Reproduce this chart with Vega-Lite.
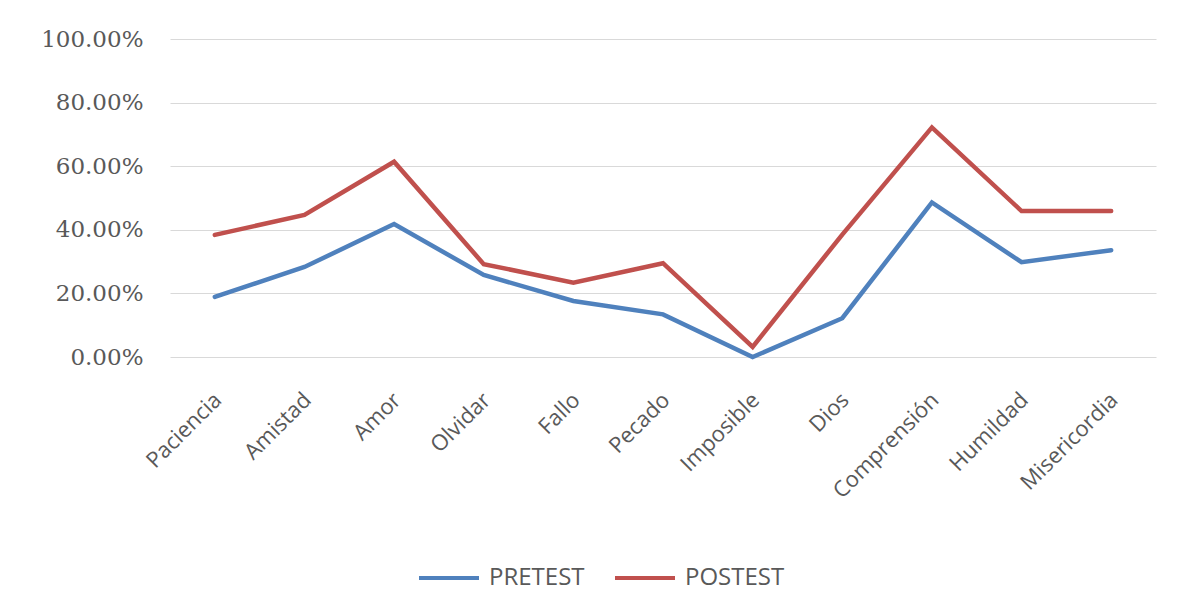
{
  "$schema": "https://vega.github.io/schema/vega-lite/v6.json",
  "width": 986,
  "height": 318,
  "autosize": {"type": "none"},
  "padding": {"left": 170, "top": 39, "right": 28, "bottom": 256},
  "background": "white",
  "config": {
    "view": {"stroke": null},
    "axis": {"labelColor": "#595959", "gridColor": "#d9d9d9", "domain": false, "ticks": false}
  },
  "data": {
    "values": [
      {"categoria": "Paciencia", "serie": "PRETEST", "valor": 0.189},
      {"categoria": "Amistad", "serie": "PRETEST", "valor": 0.283},
      {"categoria": "Amor", "serie": "PRETEST", "valor": 0.418},
      {"categoria": "Olvidar", "serie": "PRETEST", "valor": 0.258},
      {"categoria": "Fallo", "serie": "PRETEST", "valor": 0.176},
      {"categoria": "Pecado", "serie": "PRETEST", "valor": 0.134},
      {"categoria": "Imposible", "serie": "PRETEST", "valor": 0.0},
      {"categoria": "Dios", "serie": "PRETEST", "valor": 0.122},
      {"categoria": "Comprensión", "serie": "PRETEST", "valor": 0.486},
      {"categoria": "Humildad", "serie": "PRETEST", "valor": 0.298},
      {"categoria": "Misericordia", "serie": "PRETEST", "valor": 0.336},
      {"categoria": "Paciencia", "serie": "POSTEST", "valor": 0.384},
      {"categoria": "Amistad", "serie": "POSTEST", "valor": 0.447},
      {"categoria": "Amor", "serie": "POSTEST", "valor": 0.614},
      {"categoria": "Olvidar", "serie": "POSTEST", "valor": 0.292},
      {"categoria": "Fallo", "serie": "POSTEST", "valor": 0.234},
      {"categoria": "Pecado", "serie": "POSTEST", "valor": 0.295},
      {"categoria": "Imposible", "serie": "POSTEST", "valor": 0.032},
      {"categoria": "Dios", "serie": "POSTEST", "valor": 0.385},
      {"categoria": "Comprensión", "serie": "POSTEST", "valor": 0.722},
      {"categoria": "Humildad", "serie": "POSTEST", "valor": 0.459},
      {"categoria": "Misericordia", "serie": "POSTEST", "valor": 0.459}
    ]
  },
  "mark": {"type": "line", "strokeWidth": 4.5, "strokeCap": "round", "strokeJoin": "miter"},
  "encoding": {
    "x": {
      "field": "categoria",
      "type": "nominal",
      "sort": null,
      "scale": {"type": "band", "paddingInner": 0, "paddingOuter": 0},
      "axis": {
        "title": null,
        "grid": false,
        "labelAngle": -45,
        "labelFont": "Open Sans",
        "labelFontSize": 22,
        "labelPadding": 32,
        "labelOffset": -4
      }
    },
    "y": {
      "field": "valor",
      "type": "quantitative",
      "scale": {"domain": [0, 1]},
      "axis": {
        "title": null,
        "format": ".2%",
        "values": [0, 0.2, 0.4, 0.6, 0.8, 1],
        "labelFont": "DejaVu Serif",
        "labelFontSize": 23,
        "labelPadding": 27
      }
    },
    "color": {
      "field": "serie",
      "type": "nominal",
      "scale": {"domain": ["PRETEST", "POSTEST"], "range": ["#4F81BD", "#C0504D"]},
      "legend": {
        "title": null,
        "orient": "none",
        "direction": "horizontal",
        "legendX": 247,
        "legendY": 507,
        "symbolType": "stroke",
        "symbolSize": 3600,
        "symbolStrokeWidth": 4,
        "labelFont": "Open Sans",
        "labelFontSize": 24,
        "labelColor": "#595959",
        "columnPadding": 22,
        "labelOffset": 8
      }
    }
  }
}
